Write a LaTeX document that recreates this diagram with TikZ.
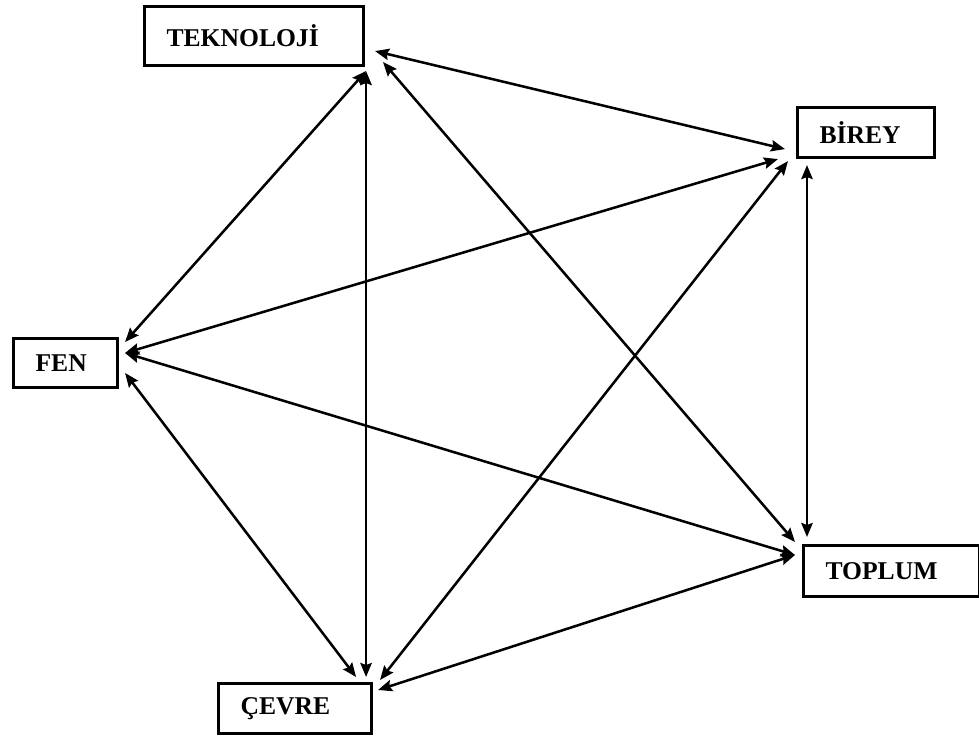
\documentclass[tikz,border=0pt]{standalone}
\usepackage{fontspec}
\setmainfont{Liberation Serif}
\usetikzlibrary{arrows.meta}
\begin{document}
\begin{tikzpicture}[x=0.75pt,y=-0.75pt,
  kutu/.style={draw, line width=2.3pt, rectangle, anchor=north west, inner xsep=16.5pt, inner ysep=0pt,
    align=left, font=\fontsize{19.2}{21}\bfseries\selectfont},
  ok/.style={line width=1.9pt, {Stealth[length=10.5pt,width=8.5pt,inset=1.5pt]}-{Stealth[length=10.5pt,width=8.5pt,inset=1.5pt]}}]
\useasboundingbox (0,0) rectangle (979,738);
\node[kutu, minimum width=164.25pt, minimum height=44.25pt, text width=131.25pt] (tek) at (143,5) {TEKNOLOJİ};
\node[kutu, minimum width=102.75pt, minimum height=37.5pt, text width=69.75pt] (bir) at (796,106) {BİREY};
\node[kutu, minimum width=78pt, minimum height=36.75pt, text width=45pt] (fen) at (12,337) {FEN};
\node[kutu, minimum width=132pt, minimum height=38.25pt, text width=99pt] (top) at (802,544) {TOPLUM};
\node[kutu, minimum width=114.75pt, minimum height=37.5pt, text width=81.75pt] (cev) at (217,682) {ÇEVRE};
% connectors
\draw[ok] ([shift={(1,4)}]tek.south east) -- ([shift={(6,5)}]fen.north east);
\draw[ok] ([shift={(1,4)}]tek.south east) -- ([shift={(-7,-5)}]cev.north east);
\draw[ok] ([shift={(10,-16)}]tek.south east) -- ([shift={(-11,-10)}]bir.south west);
\draw[ok] ([shift={(18,-5)}]tek.south east) -- ([shift={(-7,-2)}]top.north west);
\draw[ok] ([shift={(-18,0)}]bir.south west) -- ([shift={(6,16)}]fen.north east);
\draw[ok] ([shift={(-8,2)}]bir.south west) -- ([shift={(7,-2)}]cev.north east);
\draw[ok] ([shift={(11,6)}]bir.south west) -- ([shift={(5,-7)}]top.north west);
\draw[ok] ([shift={(6,16)}]fen.north east) -- ([shift={(-7,11)}]top.north west);
\draw[ok] ([shift={(6,36)}]fen.north east) -- ([shift={(-17,-5)}]cev.north east);
\draw[ok] ([shift={(5,8)}]cev.north east) -- ([shift={(-7,11)}]top.north west);
\end{tikzpicture}
\end{document}
